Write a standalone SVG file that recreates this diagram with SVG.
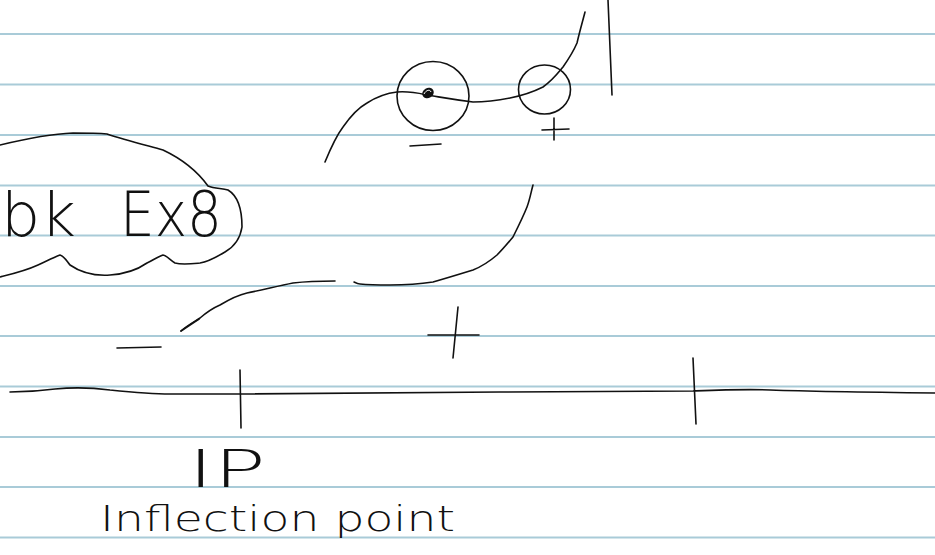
<svg xmlns="http://www.w3.org/2000/svg" width="935" height="555" viewBox="0 0 935 555">
<style>
.rule{stroke:#a9cbd8;stroke-width:2;fill:none}
.ink{stroke:#111;stroke-width:1.6;fill:none;stroke-linecap:round;stroke-linejoin:round}
.hw{font-family:"DejaVu Sans","Liberation Sans",sans-serif;font-weight:200;fill:#111}
</style>
<rect width="935" height="555" fill="#fff"/>
<g id="rules">
<line class="rule" x1="0" y1="34" x2="935" y2="34"/>
<line class="rule" x1="0" y1="84.5" x2="935" y2="84.5"/>
<line class="rule" x1="0" y1="135" x2="935" y2="135"/>
<line class="rule" x1="0" y1="185.5" x2="935" y2="185.5"/>
<line class="rule" x1="0" y1="235.5" x2="935" y2="235.5"/>
<line class="rule" x1="0" y1="286" x2="935" y2="286"/>
<line class="rule" x1="0" y1="336" x2="935" y2="336"/>
<line class="rule" x1="0" y1="386.5" x2="935" y2="386.5"/>
<line class="rule" x1="0" y1="437" x2="935" y2="437"/>
<line class="rule" x1="0" y1="487" x2="935" y2="487"/>
<line class="rule" x1="0" y1="537.5" x2="935" y2="537.5"/>
</g>
<g id="bubble">
<path class="ink" d="M0,145 C25,139 50,134 73,133 C85,133 97,133 107,134 C125,140 145,145 163,150 C180,158 195,168 208,186 C215,189 222,188 228,190 C238,196 242,210 242,227 C240,240 232,248 225,252 C215,258 207,262 200,263 C190,264 182,265 175,263 C170,260 166,255 163,255 C157,257 152,261 147,263 C137,270 125,274 110,275 C95,276 80,272 70,265 C66,260 64,256 60,255 C52,258 45,262 38,265 C25,271 12,274 0,277"/>
<text class="hw" x="1" y="236" font-size="60" textLength="75" lengthAdjust="spacingAndGlyphs">bk</text>
<text class="hw" x="120" y="236" font-size="62" textLength="102" lengthAdjust="spacingAndGlyphs">Ex8</text>
</g>
<g id="upper-curve">
<path class="ink" d="M325,162 C332,145 337,135 343,127 C350,117 358,108 367,103 C378,96 388,93 397,92 C410,91 418,93 427,95 C440,97 450,99 473,102 C485,102 495,101 510,98 C525,95 535,91 543,87 C553,80 558,73 563,67 C570,57 574,50 577,43 C580,30 583,20 585,12"/>
<ellipse class="ink" cx="433" cy="96" rx="36" ry="34.5"/>
<ellipse class="ink" cx="544.5" cy="89.5" rx="26" ry="24.5"/>
<ellipse cx="428" cy="93" rx="6" ry="5" fill="#111" transform="rotate(-30 428 93)"/>
<path d="M424,94 C426,90 430,89 431,92" stroke="#fff" stroke-width="1" fill="none"/>
<path class="ink" d="M410,146 L441,144" stroke-width="2.2"/>
<path class="ink" d="M542,130 L569,129 M554,118 L554,140" stroke-width="2"/>
<path class="ink" d="M608,0 L612,95"/>
</g>
<g id="lower-curve">
<path class="ink" d="M181,331 C188,325 194,322 200,318 C207,312 213,308 220,305 C230,299 238,295 247,293 C262,290 278,286 293,283 C310,281 322,281 335,281"/>
<path class="ink" d="M181,331 L199,319" stroke-width="3"/>
<path class="ink" d="M354,282 C356,283 358,284 360,284 C370,285 380,285 390,285 C405,285 420,284 433,282 C447,278 460,274 473,270 C483,266 490,261 497,255 C503,249 508,243 513,237 C518,227 523,217 527,207 C530,199 531,192 533,185"/>
<path class="ink" d="M117,348 L161,347" stroke-width="2.4"/>
<path class="ink" d="M428,335 L479,335 M458,307 L453,358" stroke-width="1.8"/>
</g>
<g id="axis">
<path class="ink" d="M10,392 C25,392 40,391 55,389 C75,387 95,388 110,390 C130,392 150,394 170,394 C200,394 220,394 240,394 C300,393 400,392 500,392 C600,392 650,391 693,391 C720,390 745,389 770,390 C800,391 850,392 935,393"/>
<path class="ink" d="M240,370 L241,428"/>
<path class="ink" d="M693,358 L696,424"/>
</g>
<g id="labels">
<text class="hw" x="188" y="487" font-size="52" textLength="78" lengthAdjust="spacingAndGlyphs">IP</text>
<text class="hw" x="100" y="531" font-size="36" textLength="355" lengthAdjust="spacingAndGlyphs">Inflection point</text>
</g>
</svg>
